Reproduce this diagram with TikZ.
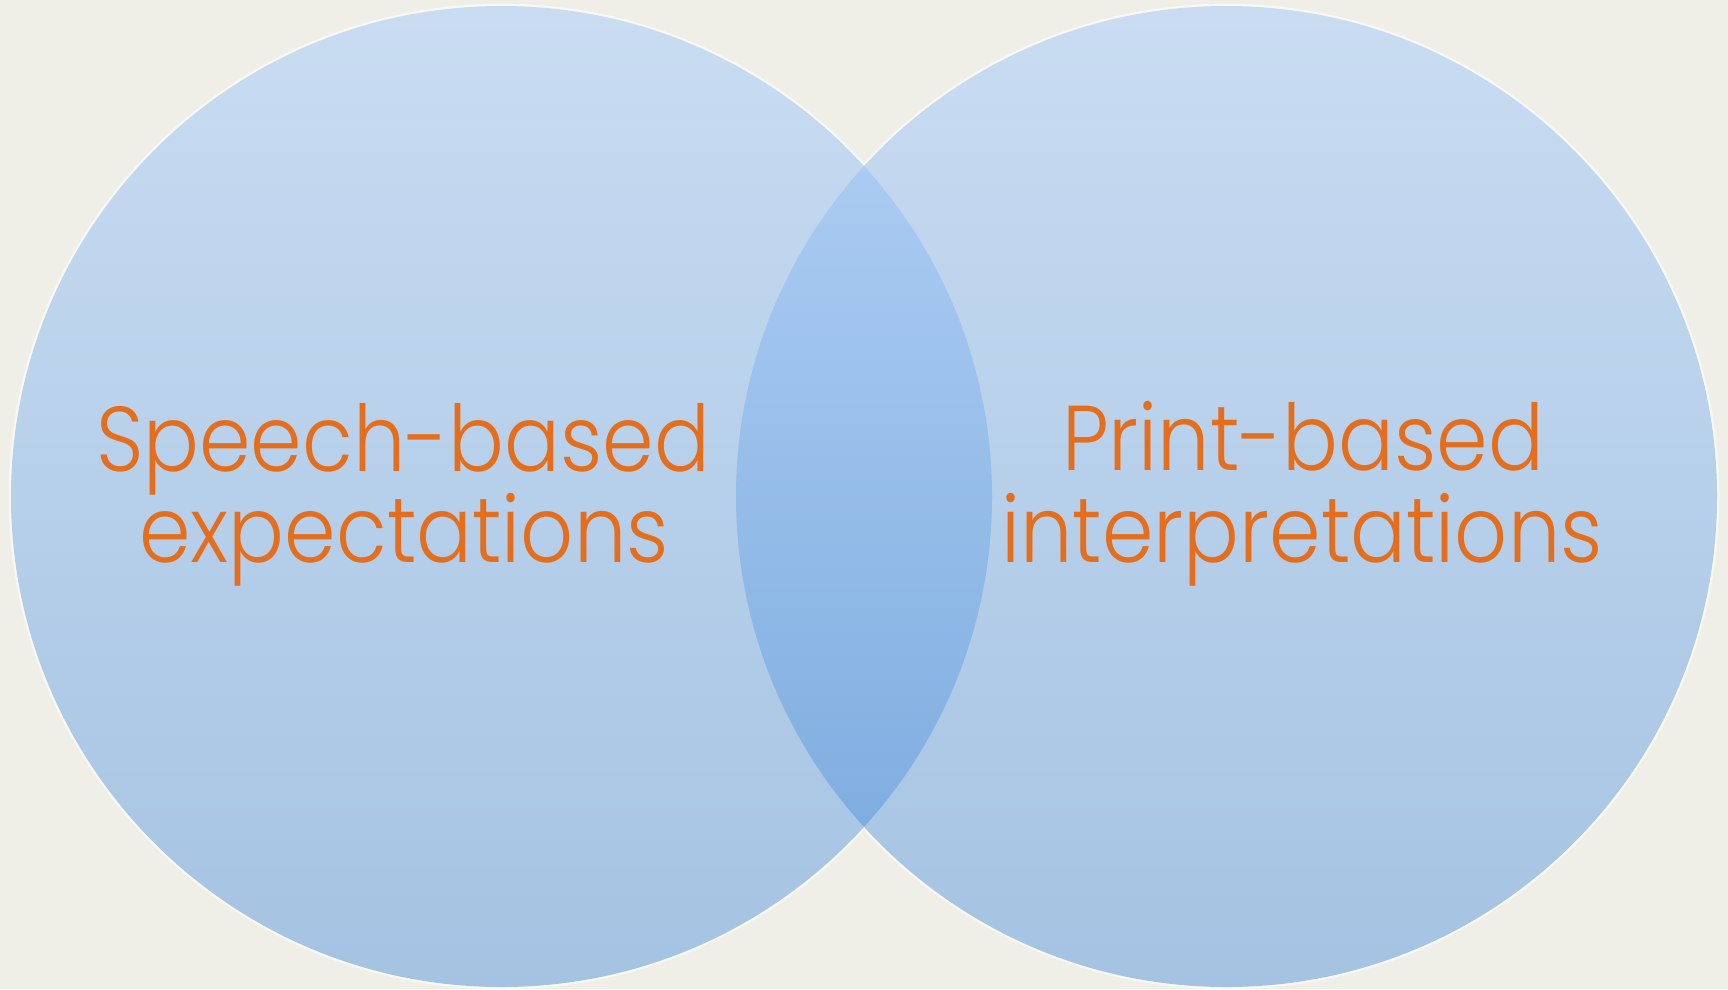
\documentclass[tikz,border=0pt]{standalone}
\usepackage{fontspec}
\setmainfont{Poppins}[UprightFont={* Light}]
\definecolor{bg}{RGB}{239,239,232}
\definecolor{ctop}{RGB}{201,220,242}
\definecolor{cbot}{RGB}{164,195,226}
\definecolor{otop}{RGB}{180,210,246}
\definecolor{obot}{RGB}{118,167,220}
\definecolor{txt}{RGB}{228,110,28}
\tikzset{
  circshade/.style={top color=ctop, bottom color=cbot},
  overshade/.style={top color=otop, bottom color=obot},
  halo/.style={draw=white, draw opacity=0.6, line width=2.5pt},
  lbl/.style={text=txt, anchor=base, inner sep=0pt, xscale=0.9, transform shape, font=\fontsize{92}{88}\selectfont}
}
\begin{document}
\begin{tikzpicture}[x=1pt,y=-1pt]
\fill[bg] (0,0) rectangle (1728,989);
\useasboundingbox (0,0) rectangle (1728,989);
\coordinate (lc) at (501.5,496.5);
\coordinate (rc) at (1226.5,496.5);
\draw[halo] (lc) circle[radius=491.5];
\draw[halo] (rc) circle[radius=491.5];
\shade[circshade] (lc) circle[radius=490.5];
\shade[circshade] (rc) circle[radius=490.5];
\begin{scope}
  \clip (lc) circle[radius=490.5];
  \shade[overshade] (rc) circle[radius=490.5];
\end{scope}
\node[lbl] (l1) at (403,471) {Speech-based};
\node[lbl] (l2) at (404,562) {expectations};
\node[lbl] (r1) at (1303,470) {Print-based};
\node[lbl] (r2) at (1302,562) {interpretations};
\end{tikzpicture}
\end{document}
